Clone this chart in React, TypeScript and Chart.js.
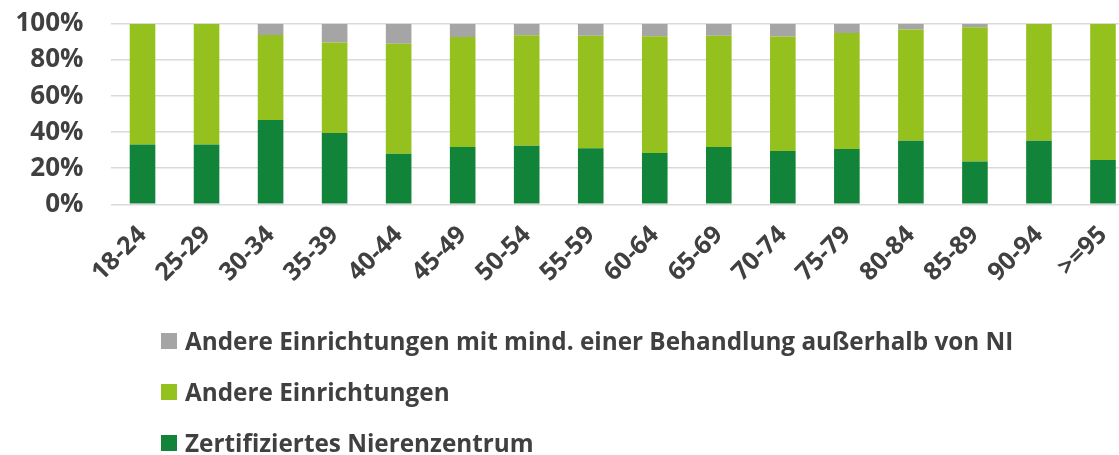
import React, { useEffect, useRef } from "react";
import { Chart, registerables } from "chart.js";

Chart.register(...registerables);

const categories = [
  "18-24", "25-29", "30-34", "35-39", "40-44", "45-49", "50-54", "55-59",
  "60-64", "65-69", "70-74", "75-79", "80-84", "85-89", "90-94", ">=95",
];
const zertifiziert = [33.1, 33.1, 46.8, 39.6, 28.1, 31.8, 32.5, 31.1, 28.5, 31.8, 29.6, 30.7, 35.3, 23.7, 35.3, 24.6];
const andere = [66.9, 66.9, 47.1, 50.2, 61.0, 61.0, 61.2, 62.4, 64.7, 61.7, 63.4, 64.3, 61.6, 74.5, 64.7, 75.4];
const andereNI = [0, 0, 6.1, 10.2, 10.9, 7.2, 6.3, 6.5, 6.8, 6.5, 7.0, 5.0, 3.1, 1.8, 0, 0];
const yTicks = [0, 20, 40, 60, 80, 100];

const seriesLabels = [
  "Zertifiziertes Nierenzentrum",
  "Andere Einrichtungen",
  "Andere Einrichtungen mit mind. einer Behandlung außerhalb von NI",
];
const seriesColors = ["#12843A", "#95C11F", "#A5A5A5"];

const FONT = "'Open Sans', sans-serif";
const TEXT = "#404040";

export default function App() {
  const ref = useRef<HTMLCanvasElement | null>(null);

  useEffect(() => {
    if (!ref.current) return;
    const chart = new Chart(ref.current, {
      type: "bar",
      data: {
        labels: categories,
        datasets: [zertifiziert, andere, andereNI].map((d, i) => ({
          label: seriesLabels[i],
          data: d,
          backgroundColor: seriesColors[i],
          borderWidth: 0,
          categoryPercentage: 1,
          barPercentage: 0.4,
        })),
      },
      options: {
        animation: false,
        responsive: false,
        layout: { autoPadding: false, padding: { top: 24, right: 5, bottom: 0, left: 0 } },
        plugins: { legend: { display: false }, tooltip: { enabled: false } },
        scales: {
          x: {
            stacked: true,
            grid: { display: false },
            border: { display: false },
            ticks: {
              minRotation: 45,
              maxRotation: 45,
              autoSkip: false,
              padding: 8,
              color: TEXT,
              font: { family: FONT, size: 25, weight: "bold" },
            },
            afterFit: (s: any) => {
              s.height = 250.7;
              s.paddingLeft = 0;
              s.paddingRight = 0;
            },
          },
          y: {
            stacked: true,
            min: 0,
            max: 100,
            afterBuildTicks: (s: any) => {
              s.ticks = yTicks.map((v) => ({ value: v }));
            },
            grid: { color: "#D9D9D9", lineWidth: 1.5, drawTicks: false },
            border: { display: false },
            ticks: {
              autoSkip: false,
              padding: 27,
              color: TEXT,
              font: { family: FONT, size: 26, weight: "bold" },
              callback: (v: any) => v + "%",
            },
            afterFit: (s: any) => {
              s.width = 110.5;
              s.paddingTop = 0;
              s.paddingBottom = 0;
            },
          },
        },
      },
    });
    return () => chart.destroy();
  }, []);

  const legendOrder = [2, 1, 0];
  const legendTops = [333, 384, 435];

  return (
    <div style={{ position: "absolute", left: 0, top: 0, width: 1119, height: 455, overflow: "hidden", background: "#fff" }}>
      <canvas ref={ref} width={1140} height={455} style={{ position: "absolute", left: 0, top: 0 }} />
      {legendOrder.map((si, k) => (
        <div
          key={si}
          style={{
            position: "absolute",
            left: 161,
            top: legendTops[k],
            height: 16,
            display: "flex",
            alignItems: "center",
            whiteSpace: "nowrap",
          }}
        >
          <span style={{ display: "inline-block", width: 16, height: 16, background: seriesColors[si] }} />
          <span style={{ marginLeft: 8, fontFamily: FONT, fontWeight: 700, fontSize: 24.3, lineHeight: "16px", color: TEXT }}>
            {seriesLabels[si]}
          </span>
        </div>
      ))}
    </div>
  );
}
